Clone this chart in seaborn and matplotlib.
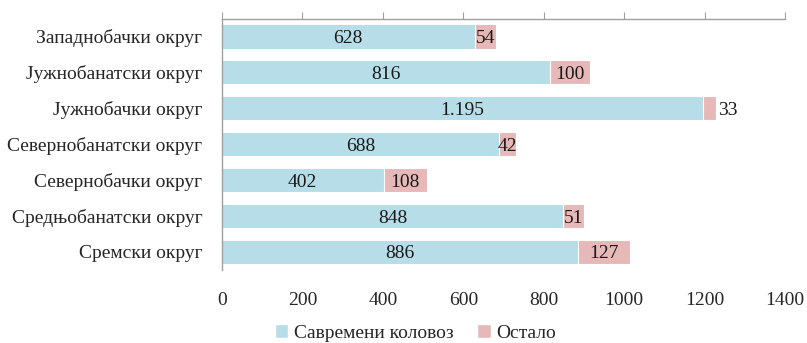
import numpy as np
import pandas as pd
import matplotlib
matplotlib.use("Agg")
import matplotlib.pyplot as plt
import seaborn as sns
from matplotlib.patches import Patch

# Data
districts = ["Западнобачки округ", "Јужнобанатски округ", "Јужнобачки округ",
             "Севернобанатски округ", "Севернобачки округ",
             "Средњобанатски округ", "Сремски округ"]
modern = [628, 816, 1195, 688, 402, 848, 886]
other = [54, 100, 33, 42, 108, 51, 127]
modern_labels = ["628", "816", "1.195", "688", "402", "848", "886"]

blue = "#B7DDE8"
pink = "#E6B9B8"

sns.set_style("white")
plt.rcParams['font.family'] = ['Liberation Serif', 'DejaVu Serif']
serif = ['Liberation Serif', 'DejaVu Serif']

df = pd.DataFrame({'District': districts, 'Modern': modern, 'Other': other})
df['Total'] = df['Modern'] + df['Other']

fig = plt.figure(figsize=(8.07, 3.43), dpi=100)
ax = fig.add_axes([0.275, 0.213, 0.698, 0.733])

# stacked bars: totals in pink, modern in blue on top
sns.barplot(data=df, y='District', x='Total', color=pink, width=0.67,
            saturation=1, edgecolor='white', linewidth=0.8, ax=ax)
sns.barplot(data=df, y='District', x='Modern', color=blue, width=0.67,
            saturation=1, edgecolor='white', linewidth=0.8, ax=ax)

fs = 14
for i, row in df.iterrows():
    ax.text(row['Modern'] / 2, i, modern_labels[i], ha='center', va='center_baseline',
            fontsize=fs, color='#1a1a1a', family=serif)
    if row['Other'] < 40:
        ax.text(row['Total'] + 5, i, str(row['Other']), ha='left', va='center_baseline',
                fontsize=fs, color='#1a1a1a', family=serif)
    else:
        ax.text(row['Modern'] + row['Other'] / 2, i, str(row['Other']),
                ha='center', va='center_baseline', fontsize=fs, color='#1a1a1a',
                family=serif)

ax.set_xlim(0, 1400)
ax.set_xticks(np.arange(0, 1401, 200))
ax.set_ylim(len(districts) - 0.5, -0.5)
ax.set_xlabel('')
ax.set_ylabel('')

ax.tick_params(axis='x', top=True, bottom=False, labeltop=False, labelbottom=True,
               direction='out', length=5, color='#A0A0A0', labelsize=fs, pad=11)
ax.tick_params(axis='y', which='major', length=0, labelsize=fs, pad=14)
ax.set_yticks(np.arange(-0.5, len(districts)), minor=True)
ax.tick_params(axis='y', which='minor', length=5, color='#A0A0A0', direction='out')
for lab in ax.get_xticklabels() + ax.get_yticklabels():
    lab.set_family(serif)

for s in ['bottom', 'right']:
    ax.spines[s].set_visible(False)
for s in ['top', 'left']:
    ax.spines[s].set_color('#A0A0A0')
    ax.spines[s].set_linewidth(1)

handles = [Patch(facecolor=blue, label='Савремени коловоз'),
           Patch(facecolor=pink, label='Остало')]
fig.legend(handles=handles, loc='center', bbox_to_anchor=(0.515, 0.03), ncol=2,
           frameon=False, handlelength=0.7, handleheight=0.7,
           handletextpad=0.3, columnspacing=1.2,
           prop={'family': serif, 'size': fs})

fig.savefig('out.png', dpi=100)
